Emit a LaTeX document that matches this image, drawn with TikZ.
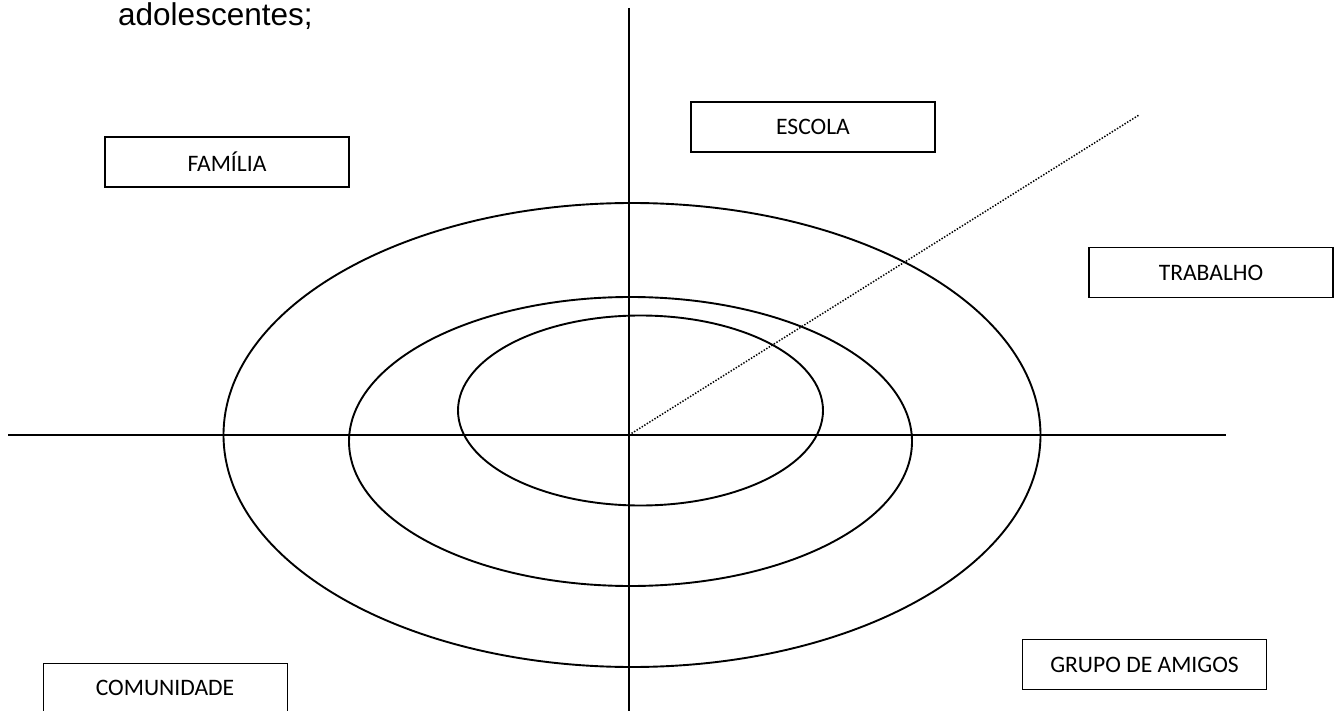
\documentclass[tikz,border=0pt]{standalone}
\usepackage{fontspec}
\setmainfont{Carlito}
\newfontfamily\arialfont{Liberation Sans}
\begin{document}
\begin{tikzpicture}[x=1pt,y=-1pt,
  lbox/.style={draw=black,line width=1.4pt,minimum width=244pt,minimum height=50pt,inner sep=0pt,font=\fontsize{23.6}{26}\selectfont,text=black},
  axis/.style={line width=1.7pt,black},
  ring/.style={line width=1.9pt,black}]
\useasboundingbox (0,0) rectangle (1336,711);
\begin{scope}
\clip (0,0) rectangle (1336,711);
\node[anchor=base west,inner sep=0pt,font=\arialfont\fontsize{31.5}{34}\selectfont] (title) at (118,26) {adolescentes;};
\coordinate (c) at (629,435);
\coordinate (top) at (629,8);
\coordinate (bot) at (629,711);
\coordinate (left) at (8,435);
\coordinate (right) at (1226,435);
\coordinate (dend) at (1139,115);
\draw[axis] (top) -- (bot);
\draw[axis] (left) -- (right);
\draw[ring] (632,435) ellipse [x radius=408.5, y radius=232];
\draw[ring] (630.5,441.5) ellipse [x radius=281.5, y radius=144.5];
\draw[ring] (640.5,410.5) ellipse [x radius=182.5, y radius=95];
\draw[line width=1.5pt,dash pattern=on 1.4pt off 1.6pt] (c) -- (dend);
\node[lbox] (familia) at (227,162) {FAMÍLIA};
\node[lbox] (escola) at (813,127) {ESCOLA};
\node[lbox] (trabalho) at (1211,272.5) {TRABALHO};
\node[lbox,anchor=north west] (comunidade) at (43,663) {};
\node[font=\fontsize{23.6}{26}\selectfont,text=black,inner sep=0pt] (comtext) at (165,688) {COMUNIDADE};
\node[lbox] (grupo) at (1144.5,664.5) {GRUPO DE AMIGOS};
\end{scope}
\end{tikzpicture}
\end{document}
